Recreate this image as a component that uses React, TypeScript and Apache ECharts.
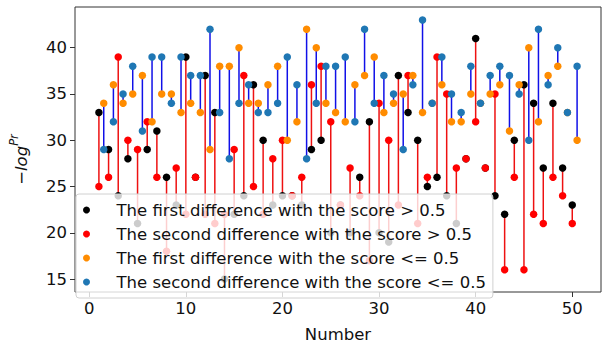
import React, { useEffect, useRef } from "react";
import * as echarts from "echarts";

// x positions of the "score > 0.5" pairs and of the "score <= 0.5" pairs
const numbers = [1,2,3,4,5,6,7,8,9,10,11,12,13,14,15,16,17,18,19,20,21,22,23,24,25,26,27,28,29,30,31,32,33,34,35,36,37,38,39,40,41,42,43,44,45,46,47,48,49,50];
const numbersHalf = [1.5,2.5,3.5,4.5,5.5,6.5,7.5,8.5,9.5,10.5,11.5,12.5,13.5,14.5,15.5,16.5,17.5,18.5,19.5,20.5,21.5,22.5,23.5,24.5,25.5,26.5,27.5,28.5,29.5,30.5,31.5,32.5,33.5,34.5,35.5,36.5,37.5,38.5,39.5,40.5,41.5,42.5,43.5,44.5,45.5,46.5,47.5,48.5,49.5,50.5];

const firstHigh = [33,29,24,28,21,29,31,26,23,39,26,37,33,15,22,24,36,30,23,24,24,23,29,30,20,23,20,26,32,20,19,37,33,30,25,26,24,21,28,41,27,24,22,30,36,34,27,34,27,23];
const secondHigh = [25,26,39,30,29,32,26,18,27,22,26,22,21,22,29,37,25,22,28,30,24,26,36,38,32,23,27,24,17,34,30,23,37,21,26,39,35,27,28,32,27,35,16,26,16,22,21,26,24,21];
const firstLow = [34,36,34,35,37,32,35,35,33,34,33,29,38,38,40,34,34,36,38,30,32,42,40,34,33,32,36,37,39,33,34,35,37,33,34,36,32,32,35,34,35,36,31,36,40,32,37,38,33,30];
const secondLow = [29,32,35,38,31,39,39,34,39,37,37,42,33,28,34,36,33,33,34,39,36,28,34,38,38,39,32,42,34,37,35,29,36,43,34,39,35,33,38,34,37,38,37,35,30,42,36,40,33,38];

const seriesNames = [
  "The first difference with the score > 0.5",
  "The second difference with the score > 0.5",
  "The first difference with the score <= 0.5",
  "The second difference with the score <= 0.5",
];
const xTicks = [0, 10, 20, 30, 40, 50];
const yTicks = [15, 20, 25, 30, 35, 40];

const FONT = "DejaVu Sans";
const FS = 16.5;

function stemSeries(xs: number[], a: number[], b: number[], color: string) {
  return {
    type: "custom",
    silent: true,
    z: 1,
    encode: { x: 0, y: [1, 2] },
    data: xs.map((x, i) => [x, a[i], b[i]]),
    renderItem: (_params: any, api: any) => {
      const p1 = api.coord([api.value(0), api.value(1)]);
      const p2 = api.coord([api.value(0), api.value(2)]);
      return {
        type: "line",
        shape: { x1: p1[0], y1: p1[1], x2: p2[0], y2: p2[1] },
        style: { stroke: color, lineWidth: 1.5 },
      };
    },
  };
}

function scatter(name: string, xs: number[], ys: number[], color: string) {
  return {
    name,
    type: "scatter",
    z: 3,
    symbol: "circle",
    symbolSize: 7.5,
    itemStyle: { color, opacity: 1 },
    data: xs.map((x, i) => [x, ys[i]]),
  };
}

export default function App() {
  const ref = useRef<HTMLDivElement>(null);
  useEffect(() => {
    if (!ref.current) return;
    const chart = echarts.init(ref.current, undefined, { renderer: "svg" });
    chart.setOption({
      animation: false,
      backgroundColor: "#ffffff",
      grid: {
        left: 67,
        right: 4,
        top: 7,
        bottom: 43,
        show: true,
        borderColor: "#333",
        borderWidth: 1,
        backgroundColor: "transparent",
      },
      legend: {
        orient: "vertical",
        left: 76,
        top: 194,
        padding: [7, 7, 7, 7],
        itemGap: 6,
        itemWidth: 32,
        itemHeight: 7,
        icon: "circle",
        backgroundColor: "rgba(255,255,255,0.8)",
        borderColor: "#d0d0d0",
        borderWidth: 1,
        borderRadius: 3,
        textStyle: { fontFamily: FONT, fontSize: FS, lineHeight: 18, color: "#111", padding: [0, 0, 0, 9] },
        data: seriesNames,
        selectedMode: false,
      },
      xAxis: {
        type: "value",
        min: -1.475,
        max: 52.975,
        splitLine: { show: false },
        axisLine: { show: false, onZero: false },
        axisTick: { show: true, customValues: xTicks, length: 5, lineStyle: { color: "#333" } },
        axisLabel: { customValues: xTicks, fontFamily: FONT, fontSize: FS, color: "#111", margin: 8 },
        name: "Number",
        nameLocation: "middle",
        nameGap: 34,
        nameTextStyle: { fontFamily: FONT, fontSize: FS, color: "#111" },
      },
      yAxis: {
        type: "value",
        min: 13.6,
        max: 44.4,
        splitLine: { show: false },
        axisLine: { show: false, onZero: false },
        axisTick: { show: true, customValues: yTicks, length: 5, lineStyle: { color: "#333" } },
        axisLabel: { customValues: yTicks, fontFamily: FONT, fontSize: FS, color: "#111", margin: 8 },
        name: "{a|\u2212log}{b|Pr}",
        nameLocation: "middle",
        nameRotate: 90,
        nameGap: 45,
        nameTextStyle: {
          fontFamily: FONT,
          color: "#111",
          padding: [0, 20, 0, 0],
          rich: {
            a: { fontFamily: FONT, fontSize: FS, fontStyle: "italic", color: "#111", lineHeight: 22, verticalAlign: "bottom" },
            b: { fontFamily: FONT, fontSize: 11.5, fontStyle: "italic", color: "#111", lineHeight: 22, verticalAlign: "top" },
          },
        },
      },
      series: [
        stemSeries(numbers, firstHigh, secondHigh, "#ee1111"),
        stemSeries(numbersHalf, firstLow, secondLow, "#1010e8"),
        scatter(seriesNames[0], numbers, firstHigh, "#000000"),
        scatter(seriesNames[1], numbers, secondHigh, "#ff0000"),
        scatter(seriesNames[2], numbersHalf, firstLow, "#ff8c00"),
        scatter(seriesNames[3], numbersHalf, secondLow, "#1f77b4"),
      ],
    });
    return () => chart.dispose();
  }, []);
  return (
    <div
      ref={ref}
      style={{ position: "fixed", left: 0, top: 0, width: 605, height: 348, background: "#fff" }}
    />
  );
}
